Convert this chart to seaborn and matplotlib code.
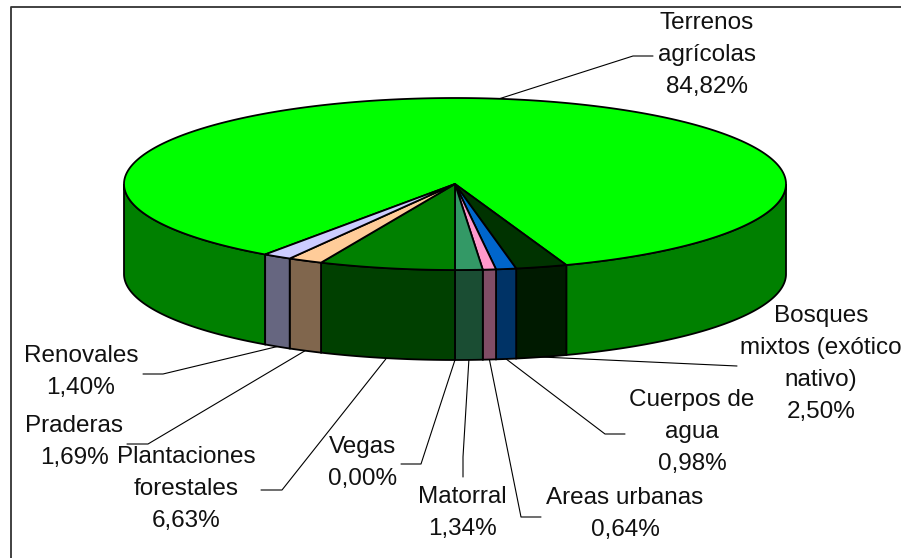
import numpy as np
import matplotlib
matplotlib.use("Agg")
import matplotlib.pyplot as plt
import seaborn as sns

# Slices in clockwise order, as they appear on the pie
names = [
    "Terrenos\nagrícolas",
    "Bosques\nmixtos (exótico\nnativo)",
    "Cuerpos de\nagua",
    "Areas urbanas",
    "Matorral",
    "Vegas",
    "Plantaciones\nforestales",
    "Praderas",
    "Renovales",
]
values = [84.82, 2.50, 0.98, 0.64, 1.34, 0.00, 6.63, 1.69, 1.40]
top_colors = ["#00FF00", "#003300", "#0066CC", "#FF99CC", "#339966",
              "#008000", "#008000", "#FFCC99", "#CCCCFF"]

# Label centres and leader elbows in image pixels
label_pos = [(707, 55), (821, 364), (692, 432), (625, 514), (462, 513),
             (363, 463), (186, 489), (74, 442), (81, 372)]
elbows = [
    [(633, 56), (653, 56)],
    [(737, 366)],
    [(605, 434), (625, 434)],
    [(521, 517), (541, 517)],
    [(463, 457), (463, 477)],
    [(421, 464), (401, 464)],
    [(282, 490), (261, 490)],
    [(148, 444), (127, 444)],
    [(163, 374), (143, 374)],
]

# Pie geometry in pixels
cx, cy = 455, 184
rx, ry = 331, 86
depth = 90
start = 215.0

sns.set_theme(style="white")
plt.rcParams["font.family"] = ["Liberation Sans"]
palette = sns.color_palette(top_colors)


def rim(a0, a1):
    # angle measured clockwise from 12 o'clock
    a = np.radians(np.linspace(a0, a1, max(int(abs(a1 - a0) * 2), 2)))
    return cx + rx * np.sin(a), cy - ry * np.cos(a)


fig, ax = plt.subplots(figsize=(9.01, 5.58), dpi=100)
ax.set_xlim(0, 901)
ax.set_ylim(558, 0)
ax.axis("off")
fig.subplots_adjust(0, 0, 1, 1)

# the frame only survives on the top and left of the picture
ax.plot([11, 11, 901], [558, 6.5, 6.5], color="#333333", lw=1.3, zorder=1)

angles = start + np.concatenate([[0], np.cumsum(values)]) * 3.6

# leader lines go under the pie
for i, v in enumerate(values):
    mid = (angles[i] + angles[i + 1]) / 2
    x, y = rim(mid, mid + 0.01)
    lower = np.cos(np.radians(mid)) < 0
    pts = [(x[0], y[0] + (depth if lower else 0))] + elbows[i]
    ax.plot(*zip(*pts), color="black", lw=0.8, zorder=1)
    txt = f"{names[i]}\n{v:.2f}%".replace(".", ",")
    ax.text(*label_pos[i], txt, ha="center", va="center", fontsize=17.5,
            color="#111111", linespacing=1.6, zorder=5)

# side walls, only the front half of the pie (90..270 clockwise) is visible
for i in range(len(values)):
    for lo, hi in [(90, 270), (450, 630)]:
        a0, a1 = max(angles[i], lo), min(angles[i + 1], hi)
        if a1 <= a0:
            continue
        x, y = rim(a0, a1)
        side = tuple(c / 2 for c in palette[i])
        ax.fill(np.r_[x, x[::-1]], np.r_[y, y[::-1] + depth], fc=side,
                ec="black", lw=1.3, zorder=2, joinstyle="miter")

# top faces
for i, v in enumerate(values):
    if v == 0:
        continue
    x, y = rim(angles[i], angles[i + 1])
    ax.fill(np.r_[cx, x], np.r_[cy, y], fc=palette[i], ec="black",
            lw=1.3, zorder=3, joinstyle="miter")

fig.savefig("out.png", dpi=100, facecolor="white")
